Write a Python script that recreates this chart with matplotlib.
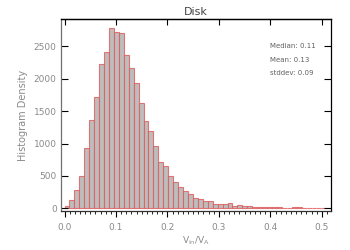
"""Histogram of V_in / V_A for the disk sample."""

import matplotlib.pyplot as plt
import numpy as np

BIN_START = 0.0
BIN_WIDTH = 0.0096

# counts per bin
counts = [
    40, 130, 285, 494, 925, 1370, 1713, 2231, 2415, 2780,
    2720, 2704, 2358, 2165, 1927, 1622, 1350, 1195, 967, 722,
    660, 503, 410, 326, 265, 215, 160, 148, 117, 110,
    75, 72, 72, 78, 36, 52, 30, 30, 28, 22,
    22, 20, 22, 20, 10, 10, 20, 18, 8, 8,
    6, 5, 4,
]
stats_labels = ["Median: 0.11", "Mean: 0.13", "stddev: 0.09"]
x_ticks = [0.0, 0.1, 0.2, 0.3, 0.4, 0.5]
y_ticks = [0, 500, 1000, 1500, 2000, 2500]


def main() -> None:
    fig = plt.figure(figsize=(3.5, 2.5), dpi=100)
    ax = fig.add_axes([0.174, 0.156, 0.772, 0.768])

    lefts = BIN_START + BIN_WIDTH * np.arange(len(counts))
    ax.bar(lefts, counts, width=BIN_WIDTH, align="edge",
           color="#bdbdbd", edgecolor=(0.88, 0.35, 0.35, 0.8), linewidth=0.8)

    ax.set_xlim(-0.007, 0.518)
    ax.set_ylim(-40, 2920)
    ax.set_xticks(x_ticks)
    ax.set_xticklabels([f"{t:.1f}" for t in x_ticks])
    ax.set_xticks(np.arange(0.0, 0.515, 0.01), minor=True)
    ax.set_yticks(y_ticks)

    gray = "#8a8a8a"
    ax.tick_params(axis="x", which="major", direction="out", length=4.5,
                   width=0.8, labelsize=6.5, labelcolor=gray, pad=4)
    ax.tick_params(axis="x", which="minor", direction="out", length=2.5,
                   width=0.6)
    ax.tick_params(axis="y", which="major", direction="in", length=5,
                   width=0.8, labelsize=6.5, labelcolor=gray, right=True, pad=3)

    # inward major ticks along the top edge
    top = ax.secondary_xaxis("top")
    top.set_xticks(x_ticks)
    top.tick_params(direction="in", length=4, width=0.8, labeltop=False)
    top.spines["top"].set_color("black")
    top.spines["top"].set_linewidth(0.9)

    ax.spines["left"].set_color("#707070")
    ax.spines["bottom"].set_color("#303030")
    for side in ["top", "right"]:
        ax.spines[side].set_color("black")
    for sp in ax.spines.values():
        sp.set_linewidth(0.9)

    ax.set_title("Disk", fontsize=8, color="#444444", pad=3)
    ax.set_xlabel(r"V$_{\rm in}$/V$_{\rm A}$", fontsize=6.5, color=gray, labelpad=2)
    ax.set_ylabel("Histogram Density", fontsize=7, color=gray, labelpad=4)

    for i, label in enumerate(stats_labels):
        ax.text(0.775, 0.86 - i * 0.071, label, transform=ax.transAxes,
                fontsize=5, color="#606060", va="center", ha="left")

    fig.savefig("out.png", dpi=100)


if __name__ == "__main__":
    main()
